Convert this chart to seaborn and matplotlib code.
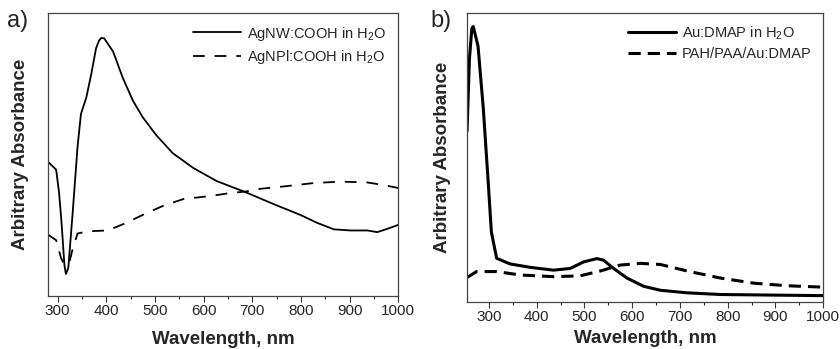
"""Recreate the UV-vis absorbance comparison figure (two panels)."""

import seaborn as sns
import matplotlib.pyplot as plt
from matplotlib.ticker import MultipleLocator
import pandas as pd

# Panel a) silver nanowires / nanoplates.
wl_a_nw = [280, 297, 303, 308, 314, 317, 322, 331, 341, 348, 359, 369, 379,
           385, 390, 396, 402, 414, 434, 455, 475, 503, 537, 579, 627, 689,
           744, 799, 834, 868, 902, 937, 957, 978, 1000]
abs_a_nw = [0.464, 0.435, 0.352, 0.246, 0.092, 0.059, 0.081, 0.281, 0.518,
            0.636, 0.695, 0.778, 0.872, 0.900, 0.910, 0.908, 0.892, 0.861,
            0.766, 0.683, 0.624, 0.559, 0.494, 0.441, 0.394, 0.352, 0.311,
            0.272, 0.243, 0.220, 0.216, 0.216, 0.210, 0.222, 0.236]
wl_a_npl = [280, 297, 307, 314, 324, 331, 341, 362, 403, 438, 475, 517, 558,
            613, 648, 689, 716, 772, 827, 882, 937, 972, 1000]
abs_a_npl = [0.201, 0.181, 0.117, 0.092, 0.100, 0.150, 0.205, 0.213, 0.216,
             0.241, 0.272, 0.305, 0.329, 0.340, 0.349, 0.357, 0.366, 0.376,
             0.387, 0.392, 0.389, 0.379, 0.369]

# Panel b) gold nanoparticles.
wl_b_au = [254, 259, 264, 267, 277, 288, 298, 305, 316, 344, 386, 435, 470,
           498, 526, 540, 561, 589, 624, 659, 715, 785, 1000]
abs_b_au = [0.583, 0.837, 0.945, 0.952, 0.883, 0.664, 0.411, 0.226, 0.134,
            0.114, 0.102, 0.092, 0.098, 0.121, 0.133, 0.127, 0.098, 0.064,
            0.035, 0.021, 0.012, 0.006, 0.002]
wl_b_film = [254, 274, 316, 365, 435, 491, 533, 575, 617, 659, 715, 785, 855,
             924, 1000]
abs_b_film = [0.066, 0.087, 0.087, 0.075, 0.069, 0.072, 0.089, 0.110, 0.116,
              0.112, 0.089, 0.064, 0.046, 0.037, 0.032]

labels_a = ["AgNW:COOH in H$_2$O", "AgNPl:COOH in H$_2$O"]
labels_b = ["Au:DMAP in H$_2$O", "PAH/PAA/Au:DMAP"]

sns.set_theme(style="ticks")
plt.rcParams["font.family"] = ["Liberation Sans", "DejaVu Sans"]
plt.rcParams["mathtext.fontset"] = "custom"
plt.rcParams["mathtext.rm"] = "Liberation Sans"

fig = plt.figure(figsize=(8.4, 3.49), dpi=100)
ax_a = fig.add_axes([0.057, 0.152, 0.417, 0.811])
ax_b = fig.add_axes([0.556, 0.135, 0.424, 0.828])


def draw_panel(ax, series, labels, lw, dash, xmin, tag, tag_x, ylabel_x,
               xlabelpad):
    """Draw one absorbance panel with a solid and a dashed curve."""
    styles = ["-", (0, dash)]
    for (wl, ab), label, ls in zip(series, labels, styles):
        df = pd.DataFrame({"wavelength": wl, "absorbance": ab})
        sns.lineplot(data=df, x="wavelength", y="absorbance", ax=ax,
                     color="black", linewidth=lw, linestyle=ls, label=label,
                     sort=False)

    ax.set_xlim(xmin, 1000)
    ax.set_ylim(-0.02, 1.0)
    ax.xaxis.set_major_locator(MultipleLocator(100))
    ax.xaxis.set_minor_locator(MultipleLocator(50))
    ax.tick_params(axis="x", which="major", length=4, width=0.8,
                   labelsize=11, pad=2, color="#333333")
    ax.tick_params(axis="x", which="minor", length=2, width=0.8)
    ax.set_yticks([])
    for spine in ax.spines.values():
        spine.set_visible(True)
        spine.set_linewidth(0.9)
        spine.set_color("#444444")

    ax.set_xlabel("Wavelength, nm", fontsize=13.5, fontweight="bold",
                  labelpad=xlabelpad)
    ax.set_ylabel("Arbitrary Absorbance", fontsize=13.5, fontweight="bold")
    ax.yaxis.set_label_coords(ylabel_x, 0.5)

    ax.legend(loc="upper right", frameon=False, fontsize=10.5,
              handlelength=3.3, handletextpad=0.4, borderaxespad=0.4,
              labelspacing=0.35)
    fig.text(tag_x, 0.97, tag, fontsize=17, va="top", ha="left")


draw_panel(ax_a, [(wl_a_nw, abs_a_nw), (wl_a_npl, abs_a_npl)], labels_a,
           1.3, (6.5, 5.5), 280, "a)", 0.008, -0.055, 9)
draw_panel(ax_b, [(wl_b_au, abs_b_au), (wl_b_film, abs_b_film)], labels_b,
           2.2, (4.0, 2.3), 254, "b)", 0.513, -0.045, 4)

fig.savefig("out.png", dpi=100)
plt.close()
